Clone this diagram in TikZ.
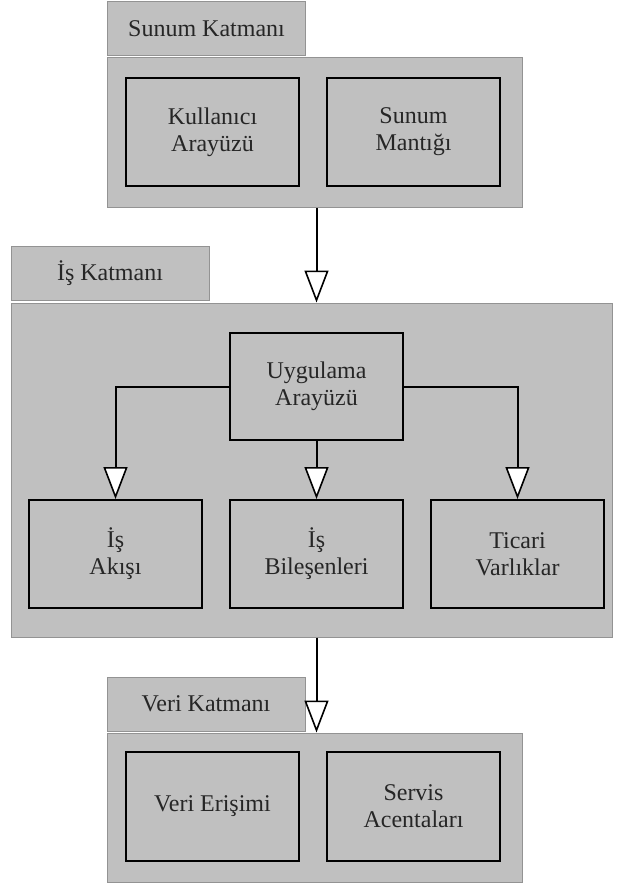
\documentclass[tikz,border=0pt]{standalone}
\usepackage{fontspec}
\setmainfont{Liberation Serif}
\usepackage{xcolor}
\usetikzlibrary{positioning,arrows.meta,calc}
\definecolor{katman}{HTML}{C0C0C0}
\begin{document}
\begin{tikzpicture}[x=1pt,y=-1pt,
  every node/.style={font=\fontsize{24}{27}\selectfont, text=black!85, align=center, inner sep=0pt},
  tab/.style={fill=katman, draw=gray!85, line width=1pt, minimum width=198pt, minimum height=54pt},
  layer/.style={fill=katman, draw=gray!85, line width=1pt},
  part/.style={draw=black, line width=2pt, minimum width=173pt, minimum height=108pt},
  flow/.style={draw=black, line width=2pt, -{Triangle[length=32pt,width=24pt,fill=white,line width=1.6pt]}}]
\useasboundingbox (0,0) rectangle (620,885);
% sunum
\node[tab] (sunumtab) at (206.5,29) {Sunum Katmanı};
\node[layer, minimum width=415pt, minimum height=150pt] (sunum) at (314.5,133) {};
\node[part] (kullanici) at (212.5,132) {Kullanıcı\\Arayüzü};
\node[part] (mantik) at (413.5,132) {Sunum\\Mantığı};
% is
\node[tab] (istab) at (110,273.5) {İş Katmanı};
\node[layer, minimum width=601pt, minimum height=334pt] (is) at (311.5,470) {};
\node[part, minimum height=107pt] (api) at (316.5,386.5) {Uygulama\\Arayüzü};
\node[part] (akis) at (115.5,554) {İş\\Akışı};
\node[part] (bilesen) at (316.5,554) {İş\\Bileşenleri};
\node[part] (ticari) at (517.5,554) {Ticari\\Varlıklar};
% veri
\node[tab] (veritab) at (206,704) {Veri Katmanı};
\node[layer, minimum width=415pt, minimum height=149pt] (veri) at (314.5,807.5) {};
\node[part, minimum height=109pt] (erisim) at (212.5,806.5) {Veri Erişimi};
\node[part, minimum height=109pt] (servis) at (413.5,806.5) {Servis\\Acentaları};
% oklar
\draw[flow] (sunum.south -| api) -- (is.north -| api);
\draw[flow] (api.west) -| (akis.north);
\draw[flow] (api.south) -- (bilesen.north);
\draw[flow] (api.east) -| (ticari.north);
\draw[flow] (is.south -| bilesen) -- (veri.north -| bilesen);
\end{tikzpicture}
\end{document}
